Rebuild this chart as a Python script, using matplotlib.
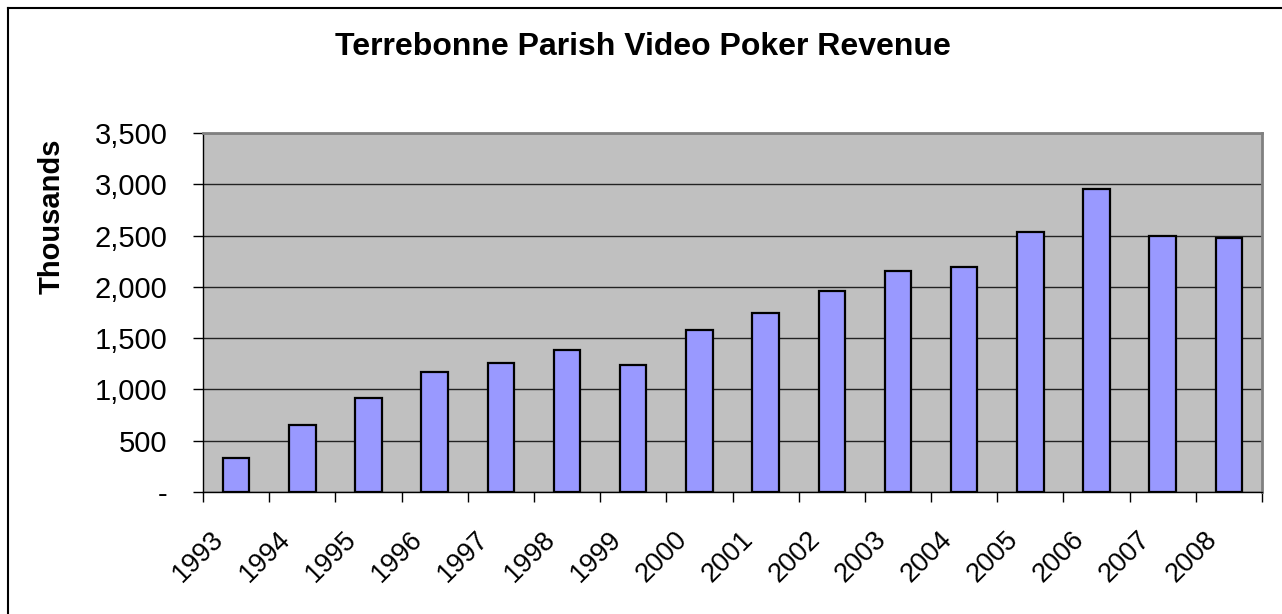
import matplotlib
matplotlib.use("Agg")
import matplotlib.pyplot as plt
from matplotlib.lines import Line2D
from matplotlib.ticker import FuncFormatter
from matplotlib.transforms import ScaledTranslation
import numpy as np

years = ["1993", "1994", "1995", "1996", "1997", "1998", "1999", "2000",
         "2001", "2002", "2003", "2004", "2005", "2006", "2007", "2008"]
revenue = [328, 656, 916, 1170, 1257, 1384, 1236, 1581,
           1747, 1957, 2158, 2191, 2536, 2953, 2497, 2476]

plt.rcParams['font.family'] = ['Liberation Sans', 'DejaVu Sans']

W, H = 1282, 614
fig = plt.figure(figsize=(W / 100, H / 100), dpi=100)
fig.patch.set_facecolor("white")

# plot area in pixel coords
left, right, top, bottom = 203, 1262, 133, 492
ax = fig.add_axes([left / W, 1 - bottom / H, (right - left) / W, (bottom - top) / H])
ax.set_facecolor("#C0C0C0")

x = np.arange(len(years))
ax.bar(x, revenue, width=0.4, color="#9999FF", edgecolor="black", linewidth=1.6, zorder=3)

ax.set_xlim(-0.5, len(years) - 0.5)
ax.set_ylim(0, 3500)
ax.set_yticks(np.arange(0, 3501, 500))
ax.yaxis.set_major_formatter(FuncFormatter(lambda v, p: "-" if v == 0 else f"{int(v):,}"))
ax.grid(axis="y", color="#222222", linewidth=1.0, zorder=1)

# category boundaries get ticks, labels sit in the middle
ax.set_xticks(np.arange(-0.5, len(years), 1.0))
ax.set_xticklabels([])
ax.set_xticks(x, minor=True)
ax.set_xticklabels(years, minor=True, rotation=45, ha="right", va="center",
                   rotation_mode="anchor", fontsize=19.5)
ax.tick_params(axis="x", which="minor", length=0, pad=31)
ax.tick_params(axis="x", which="major", length=7.5, width=1.0, direction="out")
ax.tick_params(axis="y", length=7.5, width=1.0, direction="out", labelsize=21, pad=18)
shift = ScaledTranslation(-16 / 100, 0, fig.dpi_scale_trans)
for lbl in ax.get_xticklabels(minor=True):
    lbl.set_transform(lbl.get_transform() + shift)

for s in ["left", "bottom"]:
    ax.spines[s].set_color("black")
    ax.spines[s].set_linewidth(1.0)
for s in ["top", "right"]:
    ax.spines[s].set_color("#808080")
    ax.spines[s].set_linewidth(2.0)

fig.text(643 / W, 1 - 47 / H, "Terrebonne Parish Video Poker Revenue",
         ha="center", va="center", fontsize=23, fontweight="bold")
fig.text(52 / W, 1 - 216 / H, "Thousands", ha="center", va="center",
         rotation=90, fontsize=21, fontweight="bold")

# chart border (left and top edges visible)
fig.add_artist(Line2D([8 / W, 8 / W], [0, 1 - 8 / H], transform=fig.transFigure,
                      color="black", linewidth=1.5))
fig.add_artist(Line2D([8 / W, 1], [1 - 8 / H, 1 - 8 / H], transform=fig.transFigure,
                      color="black", linewidth=1.5))

fig.savefig("out.png", dpi=100)
